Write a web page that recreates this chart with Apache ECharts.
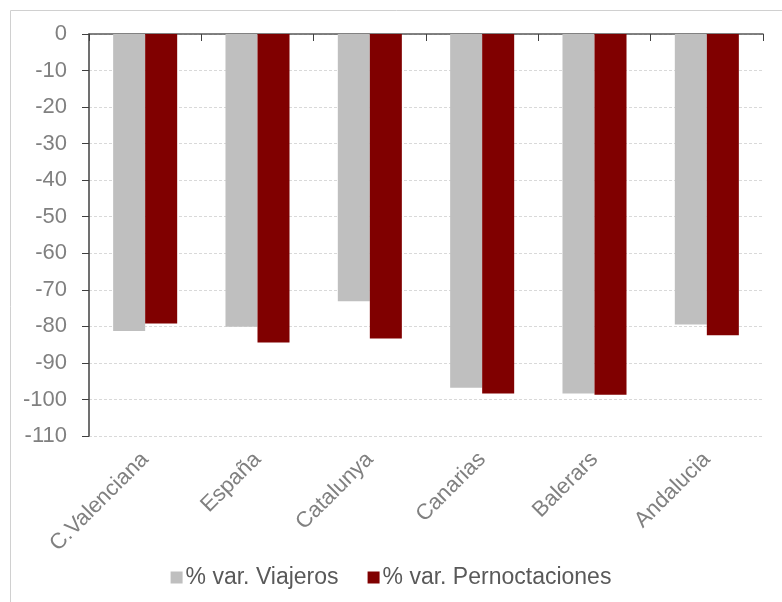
<!DOCTYPE html>
<html>
<head>
<meta charset="utf-8">
<script src="https://cdn.jsdelivr.net/npm/echarts@6/dist/echarts.min.js"></script>
<style>
  html, body { margin: 0; padding: 0; background: #fff; }
  #chart { width: 782px; height: 602px; }
</style>
</head>
<body>
<div id="chart"></div>
<script>
// categorias y valores
var categories = ['C.Valenciana', 'España', 'Catalunya', 'Canarias', 'Balerars', 'Andalucia'];
var viajeros = [-81.3, -80.1, -73.1, -96.8, -98.4, -79.5];
var pernoctaciones = [-79.2, -84.4, -83.3, -98.4, -98.7, -82.4];

var chart = echarts.init(document.getElementById('chart'));

chart.setOption({
	animation: false,
	textStyle: { fontFamily: 'Liberation Sans, Arial, sans-serif' },
	graphic: [{
		type: 'rect',
		shape: { x: 10.5, y: 10.5, width: 800, height: 700 },
		style: { fill: 'none', stroke: '#d0d0d0', lineWidth: 1 },
		silent: true
	}],
	grid: {
		left: 89,
		right: 19,
		top: 34,
		bottom: 166
	},
	legend: {
		bottom: 8,
		left: 'center',
		itemWidth: 12,
		itemHeight: 12,
		itemGap: 29,
		icon: 'rect',
		textStyle: { color: '#595959', fontSize: 23, padding: [0, 0, 0, -2] },
		data: ['% var. Viajeros', '% var. Pernoctaciones']
	},
	xAxis: [{
		type: 'category',
		data: categories,
		position: 'bottom',
		axisLine: { show: false, onZero: false },
		axisTick: { show: false },
		axisLabel: {
			rotate: 45,
			margin: 20,
			color: '#808080',
			fontSize: 22
		}
	}, {
		type: 'category',
		data: categories,
		position: 'top',
		axisLine: { show: true, lineStyle: { color: '#595959', width: 1.5 } },
		axisTick: { show: true, inside: true, length: 7, lineStyle: { color: '#404040' } },
		axisLabel: { show: false }
	}],
	yAxis: {
		type: 'value',
		min: -110,
		max: 0,
		interval: 10,
		axisLine: { show: true, lineStyle: { color: '#404040', width: 1.5 } },
		axisTick: { show: true, length: 7, lineStyle: { color: '#404040' } },
		axisLabel: { color: '#808080', fontSize: 22, margin: 22 },
		splitLine: {
			show: true,
			lineStyle: { color: '#d9d9d9', type: [3, 2] }
		}
	},
	series: [{
		name: '% var. Viajeros',
		type: 'bar',
		data: viajeros,
		barGap: '0%',
		barCategoryGap: '43%',
		itemStyle: { color: '#bfbfbf' }
	}, {
		name: '% var. Pernoctaciones',
		type: 'bar',
		data: pernoctaciones,
		itemStyle: { color: '#800000' }
	}]
});
</script>
</body>
</html>
